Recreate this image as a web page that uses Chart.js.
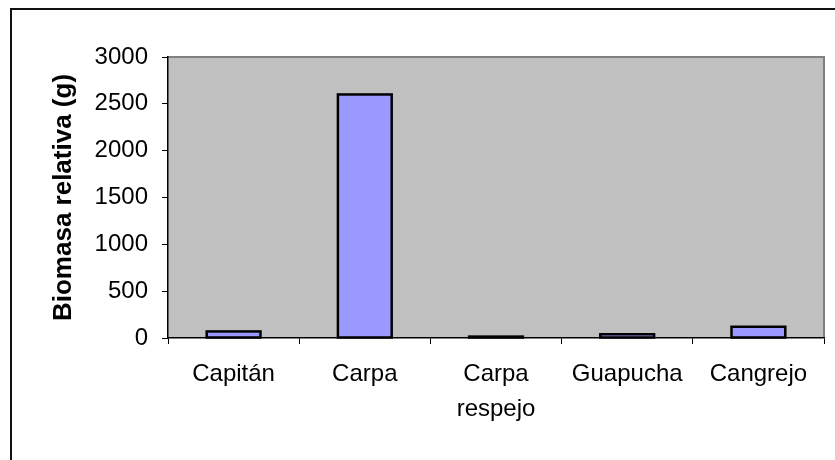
<!DOCTYPE html>
<html>
<head>
<meta charset="utf-8">
<script src="https://cdn.jsdelivr.net/npm/chart.js@4"></script>
<style>
  html, body { margin: 0; padding: 0; background: #fff; overflow: hidden; }
  #frame {
    position: absolute; left: 10px; top: 8px;
    width: 840px; height: 470px;
    border: 2px solid #111;
  }
  #wrap { position: absolute; left: 0; top: 0; width: 835px; height: 460px; }
</style>
</head>
<body>
<div id="frame"></div>
<div id="wrap"><canvas id="biomasa-chart"></canvas></div>
<script>
// categorias y valores
const especies = ['Capitán', 'Carpa', ['Carpa', 'respejo'], 'Guapucha', 'Cangrejo'];
const biomasa = [70, 2600, 15, 40, 120];
const yTicks = [0, 500, 1000, 1500, 2000, 2500, 3000];

// fondo gris del area de trazado
const plotBackground = {
    id: 'plotBackground',
    beforeDraw(chart) {
        const { ctx, chartArea: a } = chart;
        ctx.save();
        ctx.fillStyle = '#c0c0c0';
        ctx.fillRect(a.left, a.top, a.right - a.left, a.bottom - a.top);
        ctx.strokeStyle = '#808080';
        ctx.lineWidth = 2;
        ctx.beginPath();
        ctx.moveTo(a.left, a.top);
        ctx.lineTo(a.right, a.top);
        ctx.lineTo(a.right, a.bottom);
        ctx.stroke();
        ctx.restore();
    }
};

// contorno negro completo de cada barra (Chart.js recorta el borde en barras bajas)
const barOutline = {
    id: 'barOutline',
    afterDatasetsDraw(chart) {
        const { ctx } = chart;
        const meta = chart.getDatasetMeta(0);
        ctx.save();
        ctx.strokeStyle = '#000';
        ctx.lineWidth = 2.5;
        meta.data.forEach(bar => {
            const { x, y, base, width } = bar.getProps(['x', 'y', 'base', 'width'], true);
            ctx.strokeRect(x - width / 2, y, width, base - y);
        });
        ctx.restore();
    }
};

Chart.defaults.font.family = '"Liberation Sans", Arial, sans-serif';
Chart.defaults.color = '#000';

new Chart(document.getElementById('biomasa-chart'), {
    type: 'bar',
    data: {
        labels: especies,
        datasets: [{
            data: biomasa,
            backgroundColor: '#9999ff',
            borderWidth: 0,
            barPercentage: 0.41,
            categoryPercentage: 1.0
        }]
    },
    options: {
        responsive: true,
        maintainAspectRatio: false,
        animation: false,
        layout: { padding: { left: 48, top: 57, right: 11, bottom: 0 } },
        plugins: {
            legend: { display: false },
            tooltip: { enabled: false }
        },
        scales: {
            x: {
                offset: true,
                grid: {
                    offset: true,
                    drawOnChartArea: false,
                    tickLength: 6,
                    color: '#000'
                },
                border: { color: '#000', width: 1.5 },
                ticks: {
                    font: { size: 24, lineHeight: 1.45 },
                    padding: 13,
                    maxRotation: 0,
                    autoSkip: false
                },
                afterFit(scale) { scale.height = 122; }
            },
            y: {
                min: 0,
                max: 3000,
                afterBuildTicks(scale) {
                    scale.ticks = yTicks.map(v => ({ value: v }));
                },
                grid: {
                    drawOnChartArea: false,
                    tickLength: 6,
                    color: '#000'
                },
                border: { color: '#000', width: 1.5 },
                ticks: {
                    font: { size: 24 },
                    padding: 14,
                    callback: v => String(v)
                },
                title: {
                    display: true,
                    text: 'Biomasa relativa (g)',
                    font: { size: 26, weight: 'bold' },
                    padding: 0
                },
                afterFit(scale) { scale.width = 120; }
            }
        }
    },
    plugins: [plotBackground, barOutline]
});
</script>
</body>
</html>
